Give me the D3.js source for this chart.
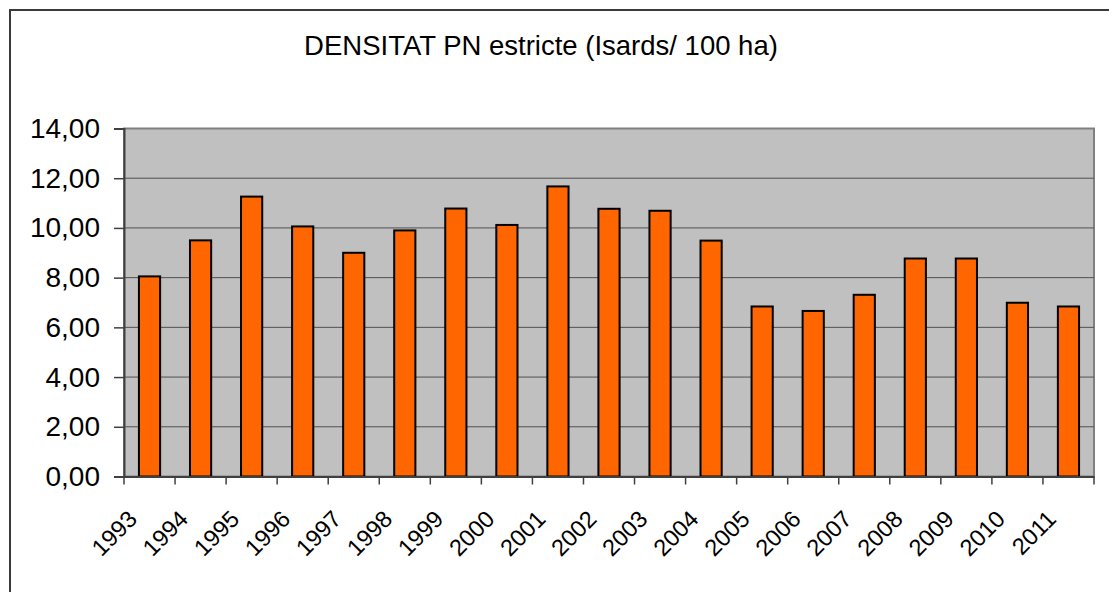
<!DOCTYPE html>
<html>
<head>
<meta charset="utf-8">
<script src="https://cdn.jsdelivr.net/npm/d3@7"></script>
<style>
  body { margin: 0; background: #fff; }
  text { font-family: "Liberation Sans", Arial, sans-serif; fill: #000; }
</style>
</head>
<body>
<div id="chart"></div>
<script>
const years = ['1993','1994','1995','1996','1997','1998','1999','2000','2001','2002',
               '2003','2004','2005','2006','2007','2008','2009','2010','2011'];
const densitat = [8.05, 9.5, 11.26, 10.06, 9.0, 9.9, 10.78, 10.12, 11.67, 10.77,
                  10.69, 9.49, 6.84, 6.66, 7.31, 8.77, 8.77, 6.99, 6.84];
const yTicks = [0, 2, 4, 6, 8, 10, 12, 14];
const title = 'DENSITAT PN estricte (Isards/ 100 ha)';

const width = 1109, height = 592;
const margin = {top: 128.5, right: 15, bottom: 115.5, left: 124};

const svg = d3.select('#chart')
  .append('svg')
    .attr('width', width)
    .attr('height', height);

// chart border (runs off the right and bottom)
svg.append('rect')
  .attr('x', 10).attr('y', 10)
  .attr('width', width + 20).attr('height', height + 20)
  .attr('fill', 'none')
  .attr('stroke', '#3a3a3a')
  .attr('stroke-width', 2);

svg.append('text')
  .attr('x', 541)
  .attr('y', 55)
  .attr('text-anchor', 'middle')
  .attr('font-size', 27.5)
  .text(title);

const x = d3.scaleBand()
  .domain(years)
  .range([margin.left, width - margin.right])
  .paddingInner(0.585)
  .paddingOuter(0.2925);

const y = d3.scaleLinear()
  .domain([0, 14])
  .range([height - margin.bottom, margin.top]);

// plot area
svg.append('rect')
  .attr('x', margin.left)
  .attr('y', margin.top)
  .attr('width', width - margin.right - margin.left)
  .attr('height', height - margin.bottom - margin.top)
  .attr('fill', '#c0c0c0')
  .attr('stroke', '#808080')
  .attr('stroke-width', 2);

// gridlines
svg.append('g')
  .selectAll('line')
  .data(yTicks.filter(d => d > 0 && d < 14))
  .join('line')
    .attr('x1', margin.left).attr('x2', width - margin.right)
    .attr('y1', d => y(d)).attr('y2', d => y(d))
    .attr('stroke', '#505050')
    .attr('stroke-width', 1);

// bars
svg.append('g')
  .selectAll('rect')
  .data(densitat)
  .join('rect')
    .attr('x', (d, i) => x(years[i]))
    .attr('y', d => y(d))
    .attr('width', x.bandwidth())
    .attr('height', d => y(0) - y(d))
    .attr('fill', '#ff6600')
    .attr('stroke', '#000')
    .attr('stroke-width', 2);

// y axis
const yAxis = svg.append('g')
  .attr('transform', `translate(${margin.left},0)`)
  .call(d3.axisLeft(y).tickValues(yTicks)
    .tickFormat(d => d3.format('.2f')(d).replace('.', ','))
    .tickSize(10).tickPadding(14));
yAxis.select('.domain').attr('stroke', '#404040').attr('stroke-width', 2);
yAxis.selectAll('.tick line').attr('stroke', '#404040').attr('stroke-width', 1.5);
yAxis.selectAll('.tick text').attr('font-size', 28).attr('font-family', '"Liberation Sans", Arial, sans-serif');

// x axis
const xAxis = svg.append('g')
  .attr('transform', `translate(0,${y(0)})`)
  .call(d3.axisBottom(x).tickSize(0).tickFormat(''));
xAxis.select('.domain').attr('stroke', '#404040').attr('stroke-width', 2);

// category boundary ticks
const bounds = years.map(d => x(d) - x.step() * x.paddingOuter()).concat([width - margin.right]);
xAxis.append('g')
  .selectAll('line')
  .data(bounds)
  .join('line')
    .attr('x1', d => d).attr('x2', d => d)
    .attr('y1', 0).attr('y2', 8)
    .attr('stroke', '#404040')
    .attr('stroke-width', 1.5);

svg.append('g')
  .selectAll('text')
  .data(years)
  .join('text')
    .attr('transform', d => `translate(${x(d) + x.bandwidth() / 2 - 11},${y(0) + 44}) rotate(-45)`)
    .attr('text-anchor', 'end')
    .attr('font-size', 23.5)
    .text(d => d);
</script>
</body>
</html>
